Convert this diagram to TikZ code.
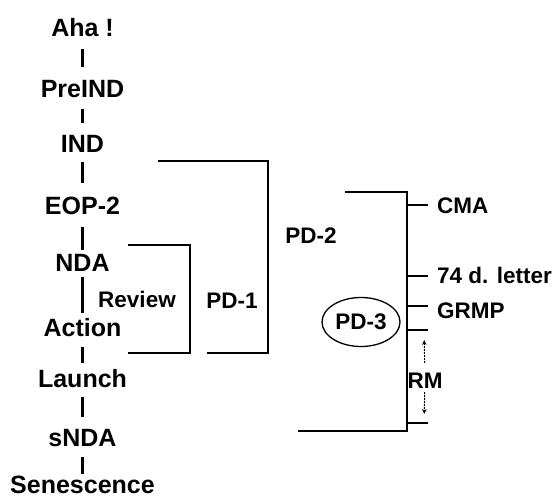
\documentclass[tikz,border=0pt]{standalone}
\usepackage{fontspec}
\setmainfont{Liberation Sans}
\usetikzlibrary{
    arrows.meta,
    positioning,
    shapes.geometric
}

\begin{document}
\begin{tikzpicture}[x=1pt,y=-1pt,
    stage/.style={font=\fontsize{25}{30}\selectfont\bfseries, inner sep=0pt, text height=18pt, text depth=0pt},
    lab/.style={font=\fontsize{22.5}{27}\selectfont\bfseries, inner sep=0pt, text height=16pt, text depth=0pt},
    link/.style={line width=2.2pt},
    bracket/.style={line width=2.2pt},
    rmarrow/.style={line width=1pt, dash pattern=on 2pt off 1pt, -{Stealth[length=5pt,width=4.5pt]}}
]
\useasboundingbox (0,0) rectangle (556,498);

% Stages
\node[stage] (aha) at (82.5,27) {Aha !};
\node[stage] (preind) at (82.5,88) {PreIND};
\node[stage] (ind) at (82.5,143) {IND};
\node[stage] (eop) at (82.5,205) {EOP-2};
\node[stage] (nda) at (82.5,262) {NDA};
\node[stage] (action) at (82.5,327) {Action};
\node[stage] (launch) at (82.5,378) {Launch};
\node[stage] (snda) at (82.5,437) {sNDA};
\node[stage] (senescence) at (82.5,484) {Senescence};

% Ticks between stages
\foreach \a/\b/\s/\e in {aha/preind/13/12, preind/ind/12/11, ind/eop/10/13,
    eop/nda/13/3, nda/action/6/5, action/launch/11/6, launch/snda/10/11,
    snda/senescence/11/1}
  \draw[link, shorten <=\s pt, shorten >=\e pt] (\a) -- (\b);

% Review bracket
\draw[bracket] (128,245) -- (190,245) -- (190,353) -- (128,353);
\node[lab] (review) at (137,299) {Review};

% PD-1 bracket
\draw[bracket] (158,161) -- (268,161) -- (268,353) -- (207,353);
\node[lab] (pd1) at (232,300) {PD-1};

% PD-2 bracket
\draw[bracket] (345,192) -- (407,192) -- (407,431) -- (298,431);
\node[lab] (pd2) at (311,235) {PD-2};

% Milestones
\foreach \y in {205,276,306,330,423}
  \draw[bracket] (407,\y) -- (428,\y);
\coordinate (tcma) at (428,205);
\coordinate (tletter) at (428,275);
\coordinate (tgrmp) at (428,310);
\node[lab, right=9pt of tcma] (cma) {CMA};
\node[lab, right=9pt of tletter] (letter) {74 d. letter};
\node[lab, right=9pt of tgrmp] (grmp) {GRMP};

% PD-3
\node[ellipse, draw, line width=1.3pt, minimum width=78pt, minimum height=49pt,
      inner sep=0pt, font=\fontsize{22.5}{27}\selectfont\bfseries] (pd3) at (361,322) {PD-3};

% RM span
\coordinate (rmtop) at (424,330);
\coordinate (rmbot) at (424,423);
\node[lab] (rm) at (425,380) {RM};
\draw[rmarrow, shorten <=9pt, shorten >=10pt] (rm) -- (rmtop);
\draw[rmarrow, shorten <=4pt, shorten >=9pt] (rm) -- (rmbot);

\end{tikzpicture}
\end{document}
